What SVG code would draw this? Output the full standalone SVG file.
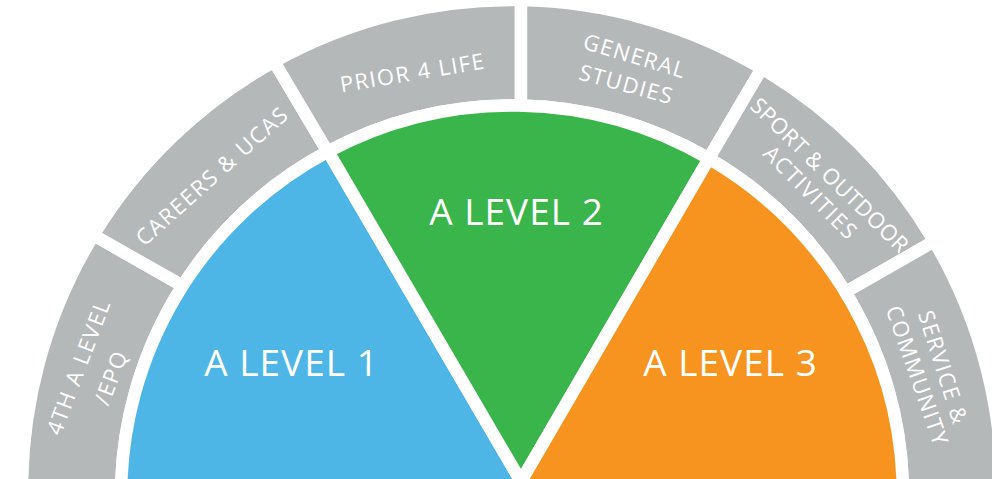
<svg xmlns="http://www.w3.org/2000/svg" width="992" height="479" viewBox="0 0 992 479">
<style>
.seg{stroke:#fff;stroke-width:12.5;stroke-linejoin:miter}
.gray{fill:#B5B8B9}
.lbl{font-family:"Open Sans","Noto Sans",sans-serif;font-size:22px;fill:#fff;text-anchor:middle;letter-spacing:1.5px}
.tight{letter-spacing:0.4px}
.big{font-family:"Open Sans","Noto Sans",sans-serif;font-size:37px;fill:#fff;text-anchor:middle;letter-spacing:1px}
</style>
<rect width="992" height="479" fill="#fff"/>
<g id="node-4th-a-level">
<path class="seg gray" d="M121,500 L22.1,500 A490,490 0 0 1 93.5,235.1 L182.6,285.8 A391,391 0 0 0 121,500 Z"/>
<text class="lbl" transform="translate(78.3,366.7) rotate(-69.3)" y="8">4TH A LEVEL</text>
<text class="lbl" transform="translate(110.8,377.5) rotate(-69.3)" y="8">/EPQ</text>
</g>
<g id="node-careers">
<path class="seg gray" d="M182.6,285.8 L93.5,235.1 A490,490 0 0 1 274.2,61.6 L327.6,151.6 A391,391 0 0 0 182.6,285.8 Z"/>
<text class="lbl" transform="translate(212,175.8) rotate(-41.8)" y="8">CAREERS &amp; UCAS</text>
</g>
<g id="node-prior">
<path class="seg gray" d="M327.6,151.6 L274.2,61.6 A490,490 0 0 1 521,0.1 L521,105.5 A391,391 0 0 0 327.6,151.6 Z"/>
<text class="lbl" transform="translate(412.5,72.5) rotate(-9.5)" y="8">PRIOR 4 LIFE</text>
</g>
<g id="node-general-studies">
<path class="seg gray" d="M521,105.5 L521,0.1 A490,490 0 0 1 761.8,68.4 L708.8,158.5 A391,391 0 0 0 521,105.5 Z"/>
<text class="lbl" transform="translate(635,55.8) rotate(16.7)" y="8">GENERAL</text>
<text class="lbl" transform="translate(626.7,84.2) rotate(15.2)" y="8">STUDIES</text>
</g>
<g id="node-sport">
<path class="seg gray" d="M708.8,158.5 L761.8,68.4 A490,490 0 0 1 934.2,241.3 L845.4,292.2 A391,391 0 0 0 708.8,158.5 Z"/>
<text class="lbl tight" transform="translate(830,175) rotate(44.3)" y="8">SPORT &amp; OUTDOOR</text>
<text class="lbl" transform="translate(810.8,192.5) rotate(45)" y="8">ACTIVITIES</text>
</g>
<g id="node-service">
<path class="seg gray" d="M845.4,292.2 L934.2,241.3 A490,490 0 0 1 1001.9,500 L903,500 A391,391 0 0 0 845.4,292.2 Z"/>
<text class="lbl" transform="translate(943.3,367.5) rotate(72.4)" y="8">SERVICE &amp;</text>
<text class="lbl" transform="translate(917.5,375.8) rotate(70.7)" y="8">COMMUNITY</text>
</g>
<g id="node-a-level-1">
<path class="seg" fill="#4EB6E6" d="M521,481.5 L328.1,151.4 A391,391 0 0 0 121,496.4 L121,510 L521,510 Z"/>
<text class="big" x="291.5" y="376">A LEVEL 1</text>
</g>
<g id="node-a-level-2">
<path class="seg" fill="#3AB54B" d="M521,481.5 L328.1,151.4 A391,391 0 0 1 708.9,158.6 Z"/>
<text class="big" x="516.5" y="225">A LEVEL 2</text>
</g>
<g id="node-a-level-3">
<path class="seg" fill="#F7941F" d="M521,481.5 L708.9,158.6 A391,391 0 0 1 903,496.4 L903,510 L521,510 Z"/>
<text class="big" x="730.5" y="376">A LEVEL 3</text>
</g>
</svg>
